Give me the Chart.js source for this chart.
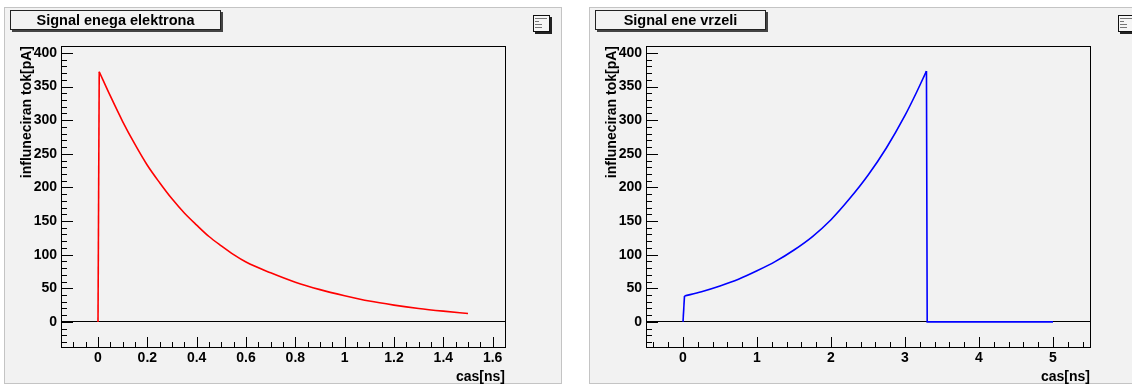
<!DOCTYPE html>
<html>
<head>
<meta charset="utf-8">
<title>Signal</title>
<script src="https://cdn.jsdelivr.net/npm/chart.js@4.4.1/dist/chart.umd.min.js"></script>
<style>
  body { margin: 0; background: #fff; width: 1132px; height: 385px; overflow: hidden; position: relative; }
  .pad { position: absolute; top: 8px; width: 556px; height: 375px; background: #f2f2f2; outline: 1px solid #c4c4c4; }
  .pad canvas { position: absolute; left: 0; top: 0; }
  .title-box { position: absolute; top: 2px; left: 5px; height: 20px; box-sizing: border-box; border: 1px solid #222;
    box-shadow: 2px 2px 0 #444; font: bold 14.5px "Liberation Sans", Arial, sans-serif; line-height: 18px; text-align: center; background: #f2f2f2; }
  .stats { position: absolute; top: 7px; left: 528px; width: 17px; height: 17px; box-sizing: border-box; border: 1px solid #111;
    box-shadow: 2px 2px 0 #222; background: #f6f6f6; }
  .stats i { position: absolute; left: 1px; height: 1px; background: #777; }
</style>
</head>
<body>
<div class="pad" style="left:5px">
  <canvas id="chart-e" width="556" height="378"></canvas>
  <div class="title-box" style="width:211px">Signal enega elektrona</div>
  <div class="stats"><i style="top:2px;width:12px"></i><i style="top:5px;width:4px"></i><i style="top:8px;width:7px"></i><i style="top:11px;width:7px"></i></div>
</div>
<div class="pad" style="left:590px">
  <canvas id="chart-h" width="556" height="378"></canvas>
  <div class="title-box" style="width:171px">Signal ene vrzeli</div>
  <div class="stats"><i style="top:2px;width:12px"></i><i style="top:5px;width:4px"></i><i style="top:8px;width:7px"></i><i style="top:11px;width:7px"></i></div>
</div>
<script>
// electron signal: time [ns], induced current [pA]
const timeE = [0, 0.005, 0.05, 0.1, 0.15, 0.2, 0.25, 0.3, 0.35, 0.4, 0.45, 0.5, 0.55, 0.6, 0.7, 0.8, 0.9, 1.0, 1.1, 1.2, 1.3, 1.4, 1.5];
const currE = [0, 372, 336, 298, 264, 233, 207, 183, 162, 144, 127, 113, 100, 89, 73, 59, 48, 39, 31, 25, 20, 16, 12.5];

// hole signal
const timeH = [0, 0.02, 0.25, 0.5, 0.75, 1.0, 1.25, 1.5, 1.75, 2.0, 2.25, 2.5, 2.75, 3.0, 3.15, 3.29, 3.3, 5.0];
const currH = [0, 38.5, 45, 53.5, 63.5, 76, 90, 107, 127, 152, 183, 218, 259, 307, 340, 373, 0, 0];

// axes
const xTicksE = [0, 0.2, 0.4, 0.6, 0.8, 1, 1.2, 1.4, 1.6];
const xTicksH = [0, 1, 2, 3, 4, 5];
const yTicks = [0, 50, 100, 150, 200, 250, 300, 350, 400];
const xRangeE = [-0.15, 1.65];
const xRangeH = [-0.5, 5.5];
const yRange = [-37.3, 410.3];

Chart.defaults.font.family = '"Liberation Sans", Arial, sans-serif';
Chart.defaults.font.size = 14;
Chart.defaults.font.weight = 'bold';
Chart.defaults.color = '#000';

function steps(from, to, step) {
  const out = [];
  for (let i = 0; from + i * step <= to + 1e-9; i++) out.push(+(from + i * step).toFixed(4));
  return out;
}

// ROOT-like frame: box around the plot and ticks pointing inwards
const rootFrame = {
  id: "rootFrame",
  afterDraw(chart, args, opts) {
    const { ctx, chartArea: a, scales: { x, y } } = chart;
    ctx.save();
    ctx.strokeStyle = "#000";
    ctx.lineWidth = 1;
    ctx.beginPath();
    const xt = (vals, len) => vals.forEach(v => {
      const px = Math.round(x.getPixelForValue(v)) + 0.5;
      ctx.moveTo(px, a.bottom); ctx.lineTo(px, a.bottom - len);
    });
    const yt = (vals, len) => vals.forEach(v => {
      const py = Math.round(y.getPixelForValue(v)) + 0.5;
      ctx.moveTo(a.left, py); ctx.lineTo(a.left + len, py);
    });
    xt(opts.xMinor, 5);
    xt(opts.xMajor, 10);
    yt(steps(-30, 410, 10), 6);
    yt(yTicks, 12);
    ctx.stroke();
    ctx.strokeRect(Math.round(a.left) + 0.5, Math.round(a.top) + 0.5,
      Math.round(a.right - a.left), Math.round(a.bottom - a.top));
    ctx.restore();
  }
};

// pieces: [from, to] index ranges; smooth ones get monotone interpolation
function piece(times, values, from, to, color, smooth) {
  const pts = [];
  for (let i = from; i <= to; i++) pts.push({ x: times[i], y: values[i] });
  return {
    data: pts,
    borderColor: color,
    borderWidth: 1.6,
    pointRadius: 0,
    tension: smooth ? 0.4 : 0,
    cubicInterpolationMode: smooth ? "monotone" : "default",
    fill: false
  };
}

function makeChart(id, datasets, xRange, xTicks, xMinor) {
  const ctx = document.getElementById(id).getContext("2d");
  return new Chart(ctx, {
    type: "line",
    data: { datasets },
    options: {
      responsive: false,
      animation: false,
      layout: { padding: { top: 38, right: 56, left: 0, bottom: 0 } },
      plugins: {
        legend: { display: false },
        tooltip: { enabled: false },
        rootFrame: { xMajor: xTicks, xMinor: xMinor }
      },
      scales: {
        x: {
          type: "linear",
          min: xRange[0],
          max: xRange[1],
          afterBuildTicks: s => { s.ticks = xTicks.map(v => ({ value: v })); },
          afterFit: s => { s.height = 39; },
          grid: { display: false, drawTicks: false },
          border: { display: true, color: "#000", width: 1 },
          ticks: { autoSkip: false, maxRotation: 0, padding: 3, callback: v => String(v) },
          title: { display: true, text: "cas[ns]", align: "end", padding: { top: 0, bottom: 0 } }
        },
        y: {
          min: yRange[0],
          max: yRange[1],
          afterBuildTicks: s => { s.ticks = yTicks.map(v => ({ value: v })); },
          afterFit: s => { s.width = 56; },
          grid: {
            drawTicks: false,
            color: c => (c.tick && c.tick.value === 0 ? "#000" : "rgba(0,0,0,0)")
          },
          border: { display: true, color: "#000", width: 1 },
          ticks: { padding: 4, callback: v => String(v) },
          title: { display: true, text: "influneciran tok[pA]", align: "end", padding: { top: 14, bottom: 0 } }
        }
      }
    },
    plugins: [rootFrame]
  });
}

const lastE = timeE.length - 1;
makeChart("chart-e", [
  piece(timeE, currE, 0, 1, "#ff0000", false),
  piece(timeE, currE, 1, lastE, "#ff0000", true)
], xRangeE, xTicksE, steps(-0.15, 1.65, 0.05));

const lastH = timeH.length - 1;
makeChart("chart-h", [
  piece(timeH, currH, 0, 1, "#0000ff", false),
  piece(timeH, currH, 1, lastH - 2, "#0000ff", true),
  piece(timeH, currH, lastH - 2, lastH, "#0000ff", false)
], xRangeH, xTicksH, steps(-0.4, 5.4, 0.2));
</script>
</body>
</html>
